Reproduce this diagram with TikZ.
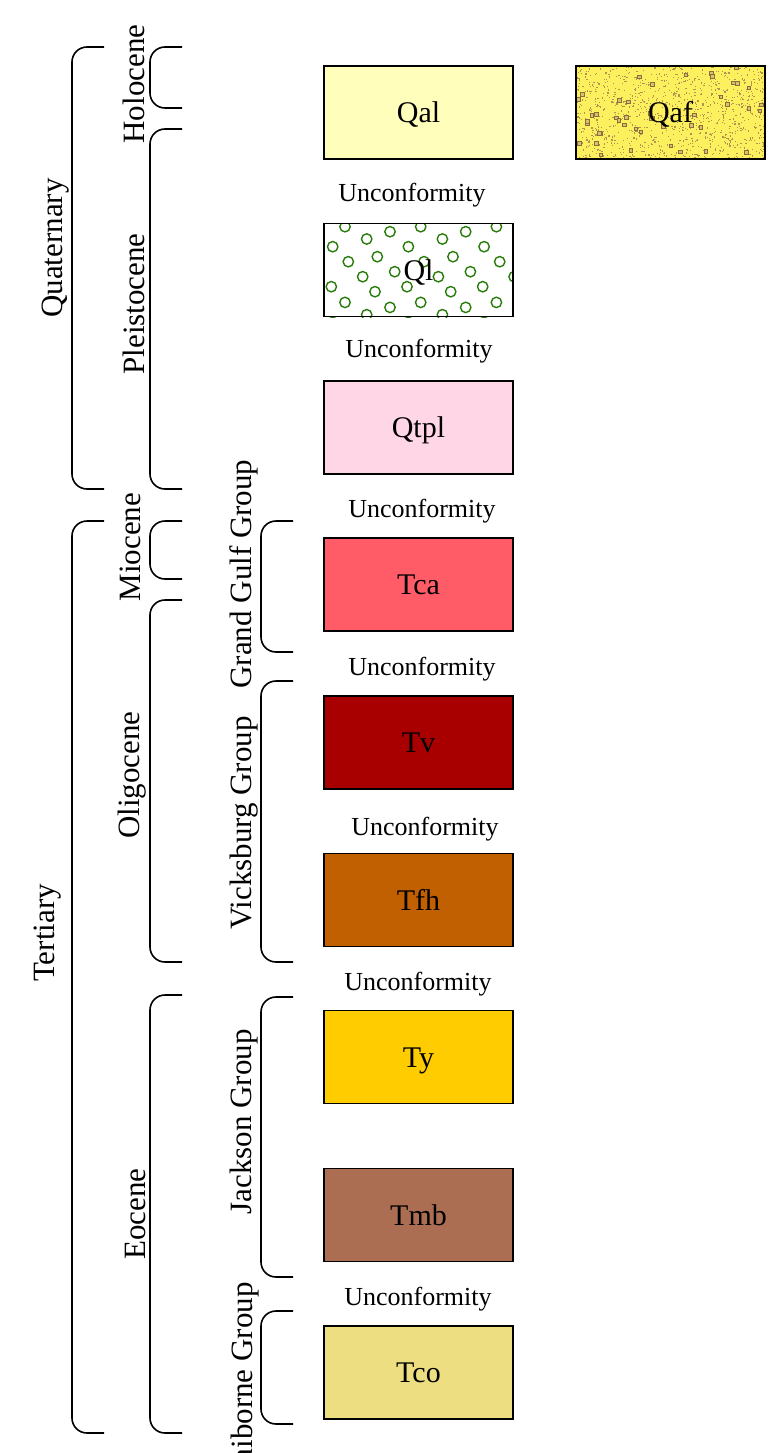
\documentclass[tikz,border=0pt]{standalone}
\usepackage{fontspec}
\setmainfont{Liberation Serif}
\usepackage{tikz}
\definecolor{qalfill}{RGB}{255,255,187}
\definecolor{qaffill}{RGB}{252,240,95}
\definecolor{qafdot}{RGB}{175,150,80}
\definecolor{qafsq}{RGB}{140,110,60}
\definecolor{qafsqin}{RGB}{215,195,110}
\definecolor{qlgreen}{RGB}{40,125,10}
\definecolor{qtplfill}{RGB}{255,214,230}
\definecolor{tcafill}{RGB}{255,92,104}
\definecolor{tvfill}{RGB}{168,0,0}
\definecolor{tfhfill}{RGB}{192,96,0}
\definecolor{tyfill}{RGB}{255,204,0}
\definecolor{tmbfill}{RGB}{171,110,82}
\definecolor{tcofill}{RGB}{237,222,130}

\begin{document}
\begin{tikzpicture}[
  x=1pt, y=-1pt,
  unit/.style={draw, line width=1.5pt, minimum width=189pt, minimum height=93pt, inner sep=0pt, text height=20pt, text depth=0pt, font=\fontsize{30}{36}\selectfont},
  gap/.style={font=\fontsize{26}{31}\selectfont},
  agelabel/.style={rotate=90, inner sep=0pt, font=\fontsize{31}{37}\selectfont},
  brace/.style={line width=1.6pt, rounded corners=15pt}
]
\useasboundingbox (0,0) rectangle (784,1453);

% gravel pattern under Ql
\begin{scope}
  \clip (324,223) rectangle (513,317);
  \foreach \ti in {-1,...,2}
    \foreach \tj in {-1,0,1}
      \foreach \cx/\cy in {25/11.7, 46.7/24, 70/16.7, 12.7/31.7, 28.3/46.7, 57.3/41.7, 42.7/61.7, 74.7/56.7, 11.3/71.7, 55/1}
        \draw[qlgreen, line width=1.4pt] ({320+75.7*\ti+\cx},{215+75.7*\tj+\cy}) circle[radius=5.2];
\end{scope}

% fan sand pattern under Qaf
\begin{scope}
  \fill[qaffill] (576,66) rectangle (765,159);
  \clip (576,66) rectangle (765,159);
  \pgfmathsetseed{42}
  \foreach \k in {1,...,1100} {
    \pgfmathsetmacro\dx{rnd*189}
    \pgfmathsetmacro\dy{rnd*93}
    \fill[qafdot] ({576+\dx},{66+\dy}) rectangle ++(1.2,1.2);
  }
  \foreach \k in {1,...,45} {
    \pgfmathsetmacro\dx{rnd*185}
    \pgfmathsetmacro\dy{rnd*89}
    \filldraw[draw=qafsq, fill=qafsqin, line width=0.9pt] ({576+\dx},{66+\dy}) rectangle ++(3.6,3.6);
  }
\end{scope}

% map units
\node[unit, fill=qalfill] (qal) at (418.5,112.5) {Qal};
\node[unit] (qaf) at (670.5,112.5) {Qaf};
\node[unit] (ql) at (418.5,270) {Ql};
\node[unit, fill=qtplfill] (qtpl) at (418.5,427.5) {Qtpl};
\node[unit, fill=tcafill] (tca) at (418.5,584.5) {Tca};
\node[unit, fill=tvfill] (tv) at (418.5,742.5) {Tv};
\node[unit, fill=tfhfill] (tfh) at (418.5,900) {Tfh};
\node[unit, fill=tyfill] (ty) at (418.5,1057) {Ty};
\node[unit, fill=tmbfill] (tmb) at (418.5,1215) {Tmb};
\node[unit, fill=tcofill] (tco) at (418.5,1372.5) {Tco};

\node[gap] (unc1) at (412,195) {Unconformity};
\node[gap] (unc2) at (419,351) {Unconformity};
\node[gap] (unc3) at (422,511) {Unconformity};
\node[gap] (unc4) at (422,669) {Unconformity};
\node[gap] (unc5) at (425,829) {Unconformity};
\node[gap] (unc6) at (418,984) {Unconformity};
\node[gap] (unc7) at (418,1299) {Unconformity};

% systems
\draw[brace] (104,47) -| (72,489) -- (104,489);
\draw[brace] (104,521) -| (72,1433) -- (104,1433);
\node[agelabel] (quaternary) at (56,248) {Quaternary};
\node[agelabel] (tertiary) at (48,933) {Tertiary};

% series
\draw[brace] (182,47) -| (150,108) -- (182,108);
\draw[brace] (182,129) -| (150,489) -- (182,489);
\draw[brace] (182,521) -| (150,579) -- (182,579);
\draw[brace] (182,600) -| (150,962) -- (182,962);
\draw[brace] (182,995) -| (150,1433) -- (182,1433);
\node[agelabel] (holocene) at (134,84) {Holocene};
\node[agelabel] (pleistocene) at (134,304) {Pleistocene};
\node[agelabel] (miocene) at (130,547) {Miocene};
\node[agelabel] (oligocene) at (132,775) {Oligocene};
\node[agelabel] (eocene) at (136,1214) {Eocene};

% groups
\draw[brace] (293,521) -| (261,652) -- (293,652);
\draw[brace] (293,681) -| (261,962) -- (293,962);
\draw[brace] (293,997) -| (261,1277) -- (293,1277);
\draw[brace] (293,1311) -| (261,1424) -- (293,1424);
\node[agelabel] (grandgulf) at (244,574) {Grand Gulf Group};
\node[agelabel] (vicksburg) at (244,823) {Vicksburg Group};
\node[agelabel] (jackson) at (244,1122) {Jackson Group};
\node[agelabel] (claiborne) at (245,1387) {Claiborne Group};

\end{tikzpicture}
\end{document}
